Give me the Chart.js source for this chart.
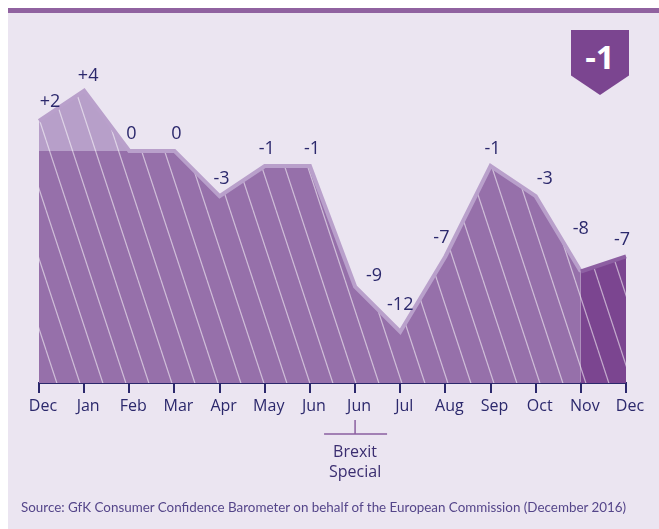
<!DOCTYPE html>
<html>
<head>
<meta charset="utf-8">
<script src="https://cdn.jsdelivr.net/npm/chart.js@4/dist/chart.umd.min.js"></script>
<style>
    body { margin: 0; background: #fff; }
    #panel {
        position: absolute; left: 8px; top: 8px; width: 651px; height: 516px;
        background: #ebe5f1; border-top: 5px solid #9062a0;
    }
    #Chart { position: absolute; left: 0; top: 0; }
    #badge {
        position: absolute; left: 571px; top: 30px; width: 58px; height: 65px;
        background: #7b4590;
        clip-path: polygon(0 0, 100% 0, 100% 70%, 50% 100%, 0 70%);
        color: #fff; font: bold 33px "Open Sans", sans-serif;
        text-align: center; line-height: 54px;
    }
    #source {
        position: absolute; left: 21px; top: 499px;
        font: 13.4px Lato, sans-serif; color: #55468a; white-space: nowrap;
    }
</style>
</head>
<body>
<div id="panel"></div>
<canvas id="Chart" width="659" height="529"></canvas>
<div id="badge">-1</div>
<div id="source">Source: GfK Consumer Confidence Barometer on behalf of the European Commission (December 2016)</div>
<script>
const months = ['Dec', 'Jan', 'Feb', 'Mar', 'Apr', 'May', 'Jun', 'Jun', 'Jul', 'Aug', 'Sep', 'Oct', 'Nov', 'Dec'];
const confidence = [2, 4, 0, 0, -3, -1, -1, -9, -12, -7, -1, -3, -8, -7];
const brexitIndex = 7;
const brexitLabel = ['Brexit', 'Special'];

const navy = '#2b286c';

function makeHatch(base) {
    const c = document.createElement('canvas');
    c.width = 23;
    c.height = 70;
    const g = c.getContext('2d');
    g.fillStyle = base;
    g.fillRect(0, 0, 23, 70);
    g.strokeStyle = 'rgba(255,255,255,0.55)';
    g.lineWidth = 1.2;
    for (let dx = -23; dx <= 23; dx += 23) {
        g.beginPath();
        g.moveTo(dx, 0);
        g.lineTo(dx + 23, 70);
        g.stroke();
    }
    return g.createPattern(c, 'repeat');
}

const mainFill = makeHatch('#9670aa');
const lightFill = makeHatch('#b79fc9');
const darkFill = makeHatch('#7b4590');

const lastSeg = (ctx, a, b) => ctx.p0DataIndex === confidence.length - 2 ? a : b;

// nudges for a few value labels so they sit like in the original
const nudge = { 0: [9, -2], 1: [2, 2], 7: [17, 6], 8: [-2, -10], 9: [-6, -2], 11: [7, 0], 12: [-2, -26], 13: [-6, 0] };

const labelsPlugin = {
    id: 'valueLabels',
    afterDatasetsDraw(chart) {
        const c = chart.ctx;
        const meta = chart.getDatasetMeta(2);
        c.save();
        c.fillStyle = navy;
        c.font = '18px "Open Sans", sans-serif';
        c.textAlign = 'center';
        c.textBaseline = 'middle';
        meta.data.forEach((pt, i) => {
            const v = confidence[i];
            const txt = v > 0 ? '+' + v : String(v);
            const n = nudge[i] || [0, 0];
            c.fillText(txt, pt.x + 2 + n[0], pt.y - 17 + n[1]);
        });

        // Brexit special bracket under the second June
        const x = chart.scales.x.getPixelForValue(brexitIndex);
        c.strokeStyle = '#8a5fa0';
        c.lineWidth = 1.5;
        c.beginPath();
        c.moveTo(x - 31, 434);
        c.lineTo(x + 32, 434);
        c.moveTo(x, 420);
        c.lineTo(x, 434);
        c.stroke();
        c.fillStyle = '#3a2d70';
        c.font = '16px "Open Sans", sans-serif';
        brexitLabel.forEach((t, i) => c.fillText(t, x, 452 + i * 20));
        c.restore();
    }
};

const ctx = document.getElementById('Chart').getContext('2d');
const chart = new Chart(ctx, {
    type: 'line',
    data: {
        labels: months,
        datasets: [{
            data: confidence,
            order: 3,
            fill: 'start',
            backgroundColor: mainFill,
            borderWidth: 0,
            pointRadius: 0,
            segment: {
                backgroundColor: ctx => lastSeg(ctx, darkFill, undefined)
            }
        }, {
            data: confidence,
            order: 2,
            fill: { target: { value: 0 }, above: lightFill, below: 'rgba(0,0,0,0)' },
            borderWidth: 0,
            pointRadius: 0
        }, {
            data: confidence,
            order: 1,
            fill: false,
            borderColor: '#b9a0cb',
            borderWidth: 4,
            borderJoinStyle: 'miter',
            pointRadius: 0,
            segment: {
                borderColor: ctx => lastSeg(ctx, '#8d5fa2', undefined)
            }
        }]
    },
    options: {
        responsive: false,
        animation: false,
        layout: { padding: { left: 39, right: 33, top: 56, bottom: 0 } },
        plugins: { legend: { display: false }, tooltip: { enabled: false } },
        scales: {
            x: {
                offset: false,
                grid: { display: true, drawOnChartArea: false, drawTicks: true, tickLength: 10, color: navy, lineWidth: 2 },
                border: { display: true, color: navy, width: 2 },
                ticks: {
                    color: navy,
                    font: { family: '"Open Sans"', size: 16 },
                    padding: 4,
                    labelOffset: 4,
                    maxRotation: 0,
                    autoSkip: false
                },
                afterFit: s => { s.height = 146; }
            },
            y: {
                display: false,
                min: -15.4,
                max: 6.3
            }
        }
    },
    plugins: [labelsPlugin]
});
</script>
</body>
</html>
